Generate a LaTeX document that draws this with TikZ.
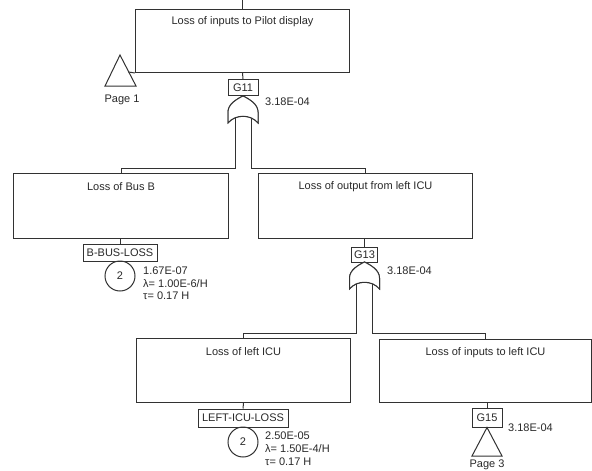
\documentclass[tikz,border=0pt]{standalone}
\usepackage{fontspec}
\setmainfont{Liberation Sans}
\begin{document}
\begin{tikzpicture}[x=1pt,y=-1pt]
\definecolor{lc}{RGB}{50,50,50}
\definecolor{tc}{RGB}{40,40,40}
\tikzset{
  ln/.style={draw=lc, line width=1pt},
  evbox/.style={ln, rectangle, anchor=north west, inner sep=0pt},
  tag/.style={ln, rectangle, inner sep=0pt, font=\fontsize{11}{13}\selectfont, text=tc},
  txt/.style={inner sep=0pt, font=\fontsize{11}{13}\selectfont, text=tc},
  num/.style={inner sep=0pt, anchor=west, font=\fontsize{11}{13}\selectfont, text=tc},
  basic/.style={ln, circle, minimum size=30pt, inner sep=0pt, font=\fontsize{11}{13}\selectfont, text=tc},
  pics/orgate/.style={code={
    \draw[ln, fill=white] (-15,27) -- (-15,16) .. controls (-15,8) and (-6,3) .. (0,0)
      .. controls (6,3) and (15,8) .. (15,16) -- (15,27)
      .. controls (8,18) and (-8,18) .. (-15,27) -- cycle;
    \coordinate (-l) at (-8,21);
    \coordinate (-r) at (8,21);
  }}
}
\useasboundingbox (0,0) rectangle (592,471);

% top event
\node[evbox, minimum width=214pt, minimum height=63pt] (top) at (135,9) {};
\node[txt] (topt) at ([yshift=-13pt]top.north) {Loss of inputs to Pilot display};
\coordinate (topin) at (top.north |- 0,0);
\draw[ln] (topin) -- (top.north);
% page 1 transfer
\coordinate (p1a) at (120,55);
\coordinate (p1l) at (105,86);
\coordinate (p1r) at (136,86);
\draw[ln] (p1a) -- (p1l) -- (p1r) -- cycle;
\coordinate (p1s) at (128.5,72);
\draw[ln] (p1s) -- (top.south west);
\node[txt] (p1t) at (122,100) {Page 1};

% G11
\node[tag, minimum width=30pt, minimum height=16pt] (g11) at (243,87.5) {G11};
\draw[ln] (top.south) -- (g11.north);
\pic (or1) at (243,96) {orgate};
\draw[ln] (g11.south) -- (243,96);
\node[num] (p11) at (265,102) {3.18E-04};

% level 2
\node[evbox, minimum width=215pt, minimum height=65pt] (busb) at (13,173) {};
\node[txt] (busbt) at ([yshift=-14pt]busb.north) {Loss of Bus B};
\node[evbox, minimum width=214pt, minimum height=65pt] (outl) at (258,173) {};
\node[txt] (outlt) at ([yshift=-14pt]outl.north) {Loss of output from left ICU};
\coordinate (j1l) at (235,168);
\coordinate (j1r) at (251,168);
\draw[ln] (or1-l) -- (j1l) -| (busb.north);
\draw[ln] (or1-r) -- (j1r) -| (outl.north);
\pic at (243,96) {orgate};

% basic event B-BUS-LOSS
\node[tag, minimum width=74pt, minimum height=17pt] (bbl) at (120,252.5) {B-BUS-LOSS};
\draw[ln] (busb.south -| bbl.north) -- (bbl.north);
\node[basic] (c1) at (120,276) {2};
\node[num] (c1a) at (143,271) {1.67E-07};
\node[num] (c1b) at (143,283.5) {λ= 1.00E-6/H};
\node[num] (c1c) at (143,296) {τ= 0.17 H};

% G13
\node[tag, minimum width=26pt, minimum height=15pt] (g13) at (364.5,254.5) {G13};
\draw[ln] (outl.south -| g13.north) -- (g13.north);
\pic (or2) at (364.5,262) {orgate};
\node[num] (p13) at (387,271) {3.18E-04};

% level 3
\node[evbox, minimum width=214pt, minimum height=64pt] (licu) at (136,338) {};
\node[txt] (licut) at ([yshift=-14pt]licu.north) {Loss of left ICU};
\node[evbox, minimum width=212pt, minimum height=63pt] (ricu) at (379,339) {};
\node[txt] (ricut) at ([yshift=-14pt]ricu.north) {Loss of inputs to left ICU};
\coordinate (j2l) at (356.5,333);
\coordinate (j2r) at (372.5,333);
\draw[ln] (or2-l) -- (j2l) -| (licu.north);
\draw[ln] (or2-r) -- (j2r) -| (ricu.north);
\pic at (364.5,262) {orgate};

% basic event LEFT-ICU-LOSS
\node[tag, minimum width=90pt, minimum height=18pt] (lil) at (243,418) {LEFT-ICU-LOSS};
\draw[ln] (licu.south) -- (lil.north);
\node[basic] (c2) at (243,442) {2};
\node[num] (c2a) at (265,436) {2.50E-05};
\node[num] (c2b) at (265,449) {λ= 1.50E-4/H};
\node[num] (c2c) at (265,462) {τ= 0.17 H};

% G15 transfer
\node[tag, minimum width=30pt, minimum height=19pt] (g15) at (487,417.5) {G15};
\draw[ln] (ricu.south -| g15.north) -- (g15.north);
\coordinate (p3l) at (472,456);
\coordinate (p3r) at (502,456);
\draw[ln] (g15.south) -- (p3l) -- (p3r) -- cycle;
\node[txt] (p3t) at (487,465) {Page 3};
\node[num] (p15) at (508,428) {3.18E-04};
\end{tikzpicture}
\end{document}
